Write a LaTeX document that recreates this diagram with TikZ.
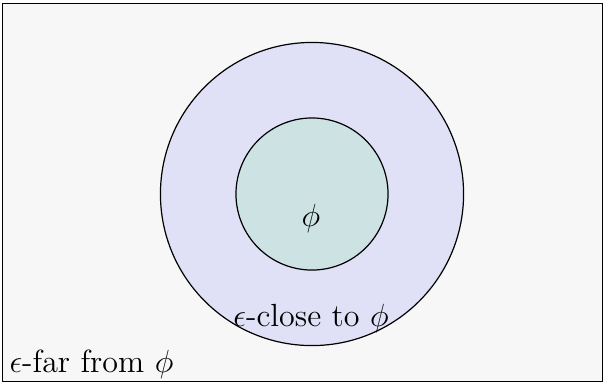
\documentclass[tikz,border=0pt]{standalone}
\usepackage{xcolor}
\definecolor{bgray}{RGB}{247,247,247}
\definecolor{outerc}{RGB}{224,224,247}
\definecolor{innerc}{RGB}{205,227,227}
\begin{document}
\begin{tikzpicture}[x=0.013158cm,y=-0.013158cm,
  lbl/.style={font=\large, inner sep=0pt},
  ring/.style={circle, draw, inner sep=0pt, outer sep=0pt, line width=0.45pt}]
\useasboundingbox (0,0) rectangle (604,383);
\node[draw, fill=bgray, line width=0.45pt, inner sep=0pt, outer sep=0pt,
  minimum width=7.895cm, minimum height=4.974cm] (frame) at (302.5,192.5) {};
\node[ring, fill=outerc, minimum size=3.987cm] (outer) at (312,194) {};
\node[ring, fill=innerc, minimum size=2cm] (inner) at (312,194) {};
\node[lbl] (phi) at (311,218) {$\phi$};
\node[lbl] (close) at (311,318) {$\epsilon$-close to $\phi$};
\node[lbl, anchor=base west] (far) at (9,372) {$\epsilon$-far from $\phi$};
\end{tikzpicture}
\end{document}
